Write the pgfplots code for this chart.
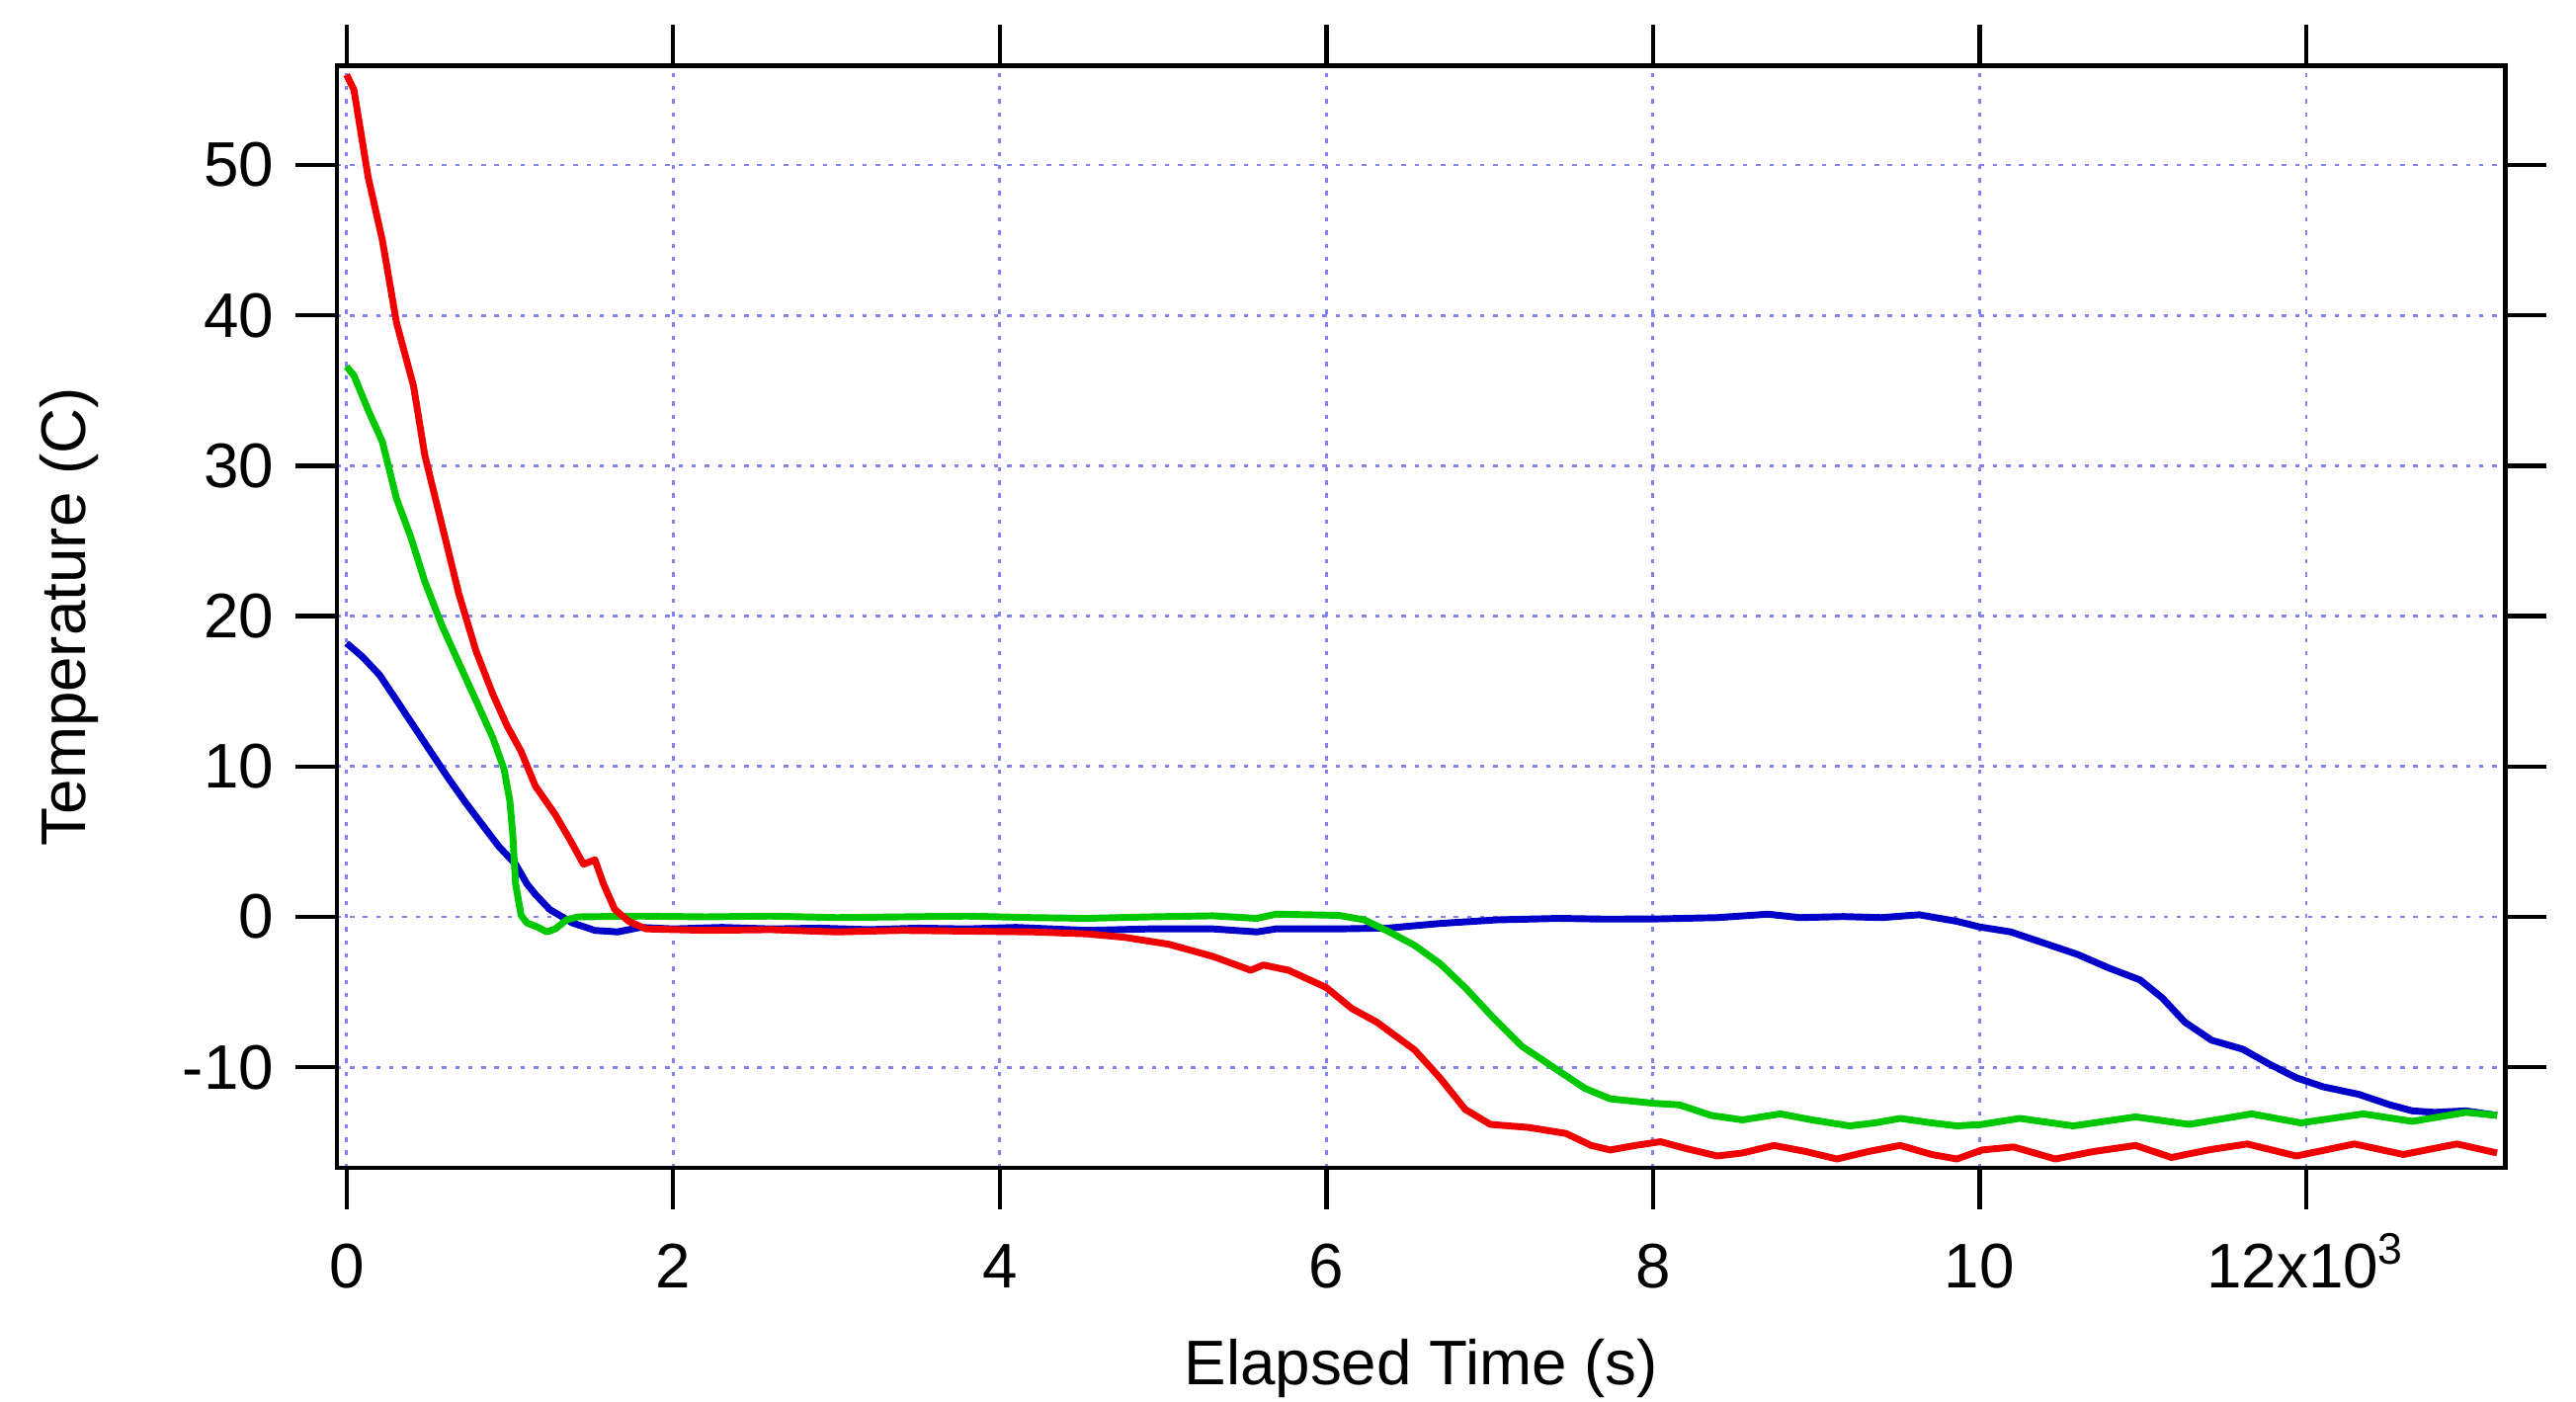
\documentclass[border=0pt]{standalone}
\usepackage{fontspec}
\setmainfont{Liberation Sans}
\usepackage{pgfplots}
\pgfplotsset{compat=1.18}
\definecolor{cred}{RGB}{240,0,0}
\definecolor{cgreen}{RGB}{0,200,0}
\definecolor{cblue}{RGB}{0,0,200}
\definecolor{cgrid}{RGB}{130,130,245}
\begin{document}
\begin{tikzpicture}
\begin{axis}[
  scale only axis,
  width=396pt, height=201.3pt,
  xmin=-60, xmax=13220,
  ymin=-16.7, ymax=56.6,
  scaled x ticks=false, scaled y ticks=false,
  xtick={0,2000,4000,6000,8000,10000,12000},
  xticklabels={0,2,4,6,8,10,12x10\textsuperscript{3}},
  ytick={-10,0,10,20,30,40,50},
  yticklabels={-10,0,10,20,30,40,50},
  tick pos=both,
  tick align=outside,
  major tick length=7.5pt,
  every tick/.style={black, line width=0.8pt},
  axis line style={black, line width=0.8pt},
  xmajorgrids, ymajorgrids,
  major grid style={cgrid, line width=0.5pt, dash pattern=on 0.8pt off 1.6pt},
  font=\fontsize{11.5}{13}\selectfont,
  xticklabel style={text height=8.3pt, text depth=0pt, yshift=-2.5pt},
  yticklabel style={xshift=-0.5pt},
  xlabel={Elapsed Time (s)},
  ylabel={Temperature (C)},
  every axis x label/.style={at={(rel axis cs:0.5,-0.197)}, anchor=base},
  every axis y label/.style={at={(rel axis cs:-0.1235,0.5)}, rotate=90, anchor=center},
  clip=true,
]
\addplot[cblue, line width=1.25pt, line join=round] table {
x y
0 18.2
97 17.3
201 16.1
306 14.4
410 12.7
514 11.0
618 9.3
722 7.7
826 6.2
931 4.7
1035 3.5
1104 2.2
1156 1.5
1243 0.5
1382 -0.4
1521 -0.9
1660 -1.0
1798 -0.7
2000 -0.8
2300 -0.7
2600 -0.8
2900 -0.75
3200 -0.85
3500 -0.75
3800 -0.8
4100 -0.7
4533 -0.9
4919 -0.8
5305 -0.8
5575 -1.0
5691 -0.8
6077 -0.8
6386 -0.74
6695 -0.44
7042 -0.2
7428 -0.1
7700 -0.15
8008 -0.14
8394 -0.05
8600 0.1
8703 0.18
8900 -0.05
9166 0.02
9400 -0.05
9630 0.14
9863 -0.3
10000 -0.67
10191 -1.0
10410 -1.8
10601 -2.5
10792 -3.4
10984 -4.2
11120 -5.4
11257 -7.0
11421 -8.2
11612 -8.8
11776 -9.8
11940 -10.7
12104 -11.3
12322 -11.8
12513 -12.5
12650 -12.9
12787 -13.0
12978 -12.9
13169 -13.2
};
\addplot[cgreen, line width=1.25pt, line join=round] table {
x y
0 36.6
45 36.0
132 33.7
219 31.6
306 27.8
392 25.3
479 22.3
583 19.4
687 16.9
792 14.4
896 11.9
965 9.8
1000 7.7
1017 5.6
1035 2.2
1069 0.1
1104 -0.4
1174 -0.7
1226 -1.0
1278 -0.8
1347 -0.2
1417 0
1800 0.05
2200 0
2600 0.05
3000 -0.05
3400 0
3800 0.05
4200 -0.05
4533 -0.1
4919 0
5305 0.07
5575 -0.1
5691 0.18
6077 0.1
6232 -0.2
6386 -1.0
6541 -1.9
6695 -3.1
6850 -4.7
7004 -6.5
7197 -8.6
7390 -10.0
7583 -11.4
7738 -12.1
8008 -12.4
8162 -12.5
8355 -13.2
8548 -13.5
8780 -13.1
8973 -13.5
9205 -13.9
9359 -13.7
9514 -13.4
9707 -13.7
9861 -13.9
10015 -13.8
10246 -13.4
10574 -13.9
10956 -13.3
11284 -13.8
11666 -13.1
11967 -13.7
12350 -13.1
12650 -13.6
12978 -13.0
13169 -13.2
};
\addplot[cred, line width=1.25pt, line join=round] table {
x y
0 56.0
45 55.0
132 49.2
219 45.0
306 39.5
410 35.3
479 30.7
583 26.1
687 21.5
792 17.7
896 14.8
983 12.7
1069 11.0
1156 8.7
1278 6.8
1364 5.2
1451 3.5
1521 3.8
1573 2.2
1642 0.5
1729 -0.3
1833 -0.8
2200 -0.9
2600 -0.85
3000 -1.0
3400 -0.9
3800 -0.95
4200 -1.0
4533 -1.13
4765 -1.36
5035 -1.82
5305 -2.63
5537 -3.55
5614 -3.2
5768 -3.55
6000 -4.7
6154 -6.08
6309 -7.0
6541 -8.85
6695 -10.7
6850 -12.8
7004 -13.8
7236 -14.0
7467 -14.4
7622 -15.2
7738 -15.5
7892 -15.2
8046 -14.95
8201 -15.4
8394 -15.9
8548 -15.7
8741 -15.2
8934 -15.6
9127 -16.1
9320 -15.6
9514 -15.2
9707 -15.8
9861 -16.1
10015 -15.5
10208 -15.3
10464 -16.1
10700 -15.6
10956 -15.2
11175 -16.0
11400 -15.5
11639 -15.1
11940 -15.9
12295 -15.1
12595 -15.8
12923 -15.1
13169 -15.7
};
\end{axis}
\pgfresetboundingbox
\path ([shift={(-61.5pt,-42.6pt)}]current axis.south west) rectangle ([shift={(12.9pt,12pt)}]current axis.north east);
\end{tikzpicture}
\end{document}
